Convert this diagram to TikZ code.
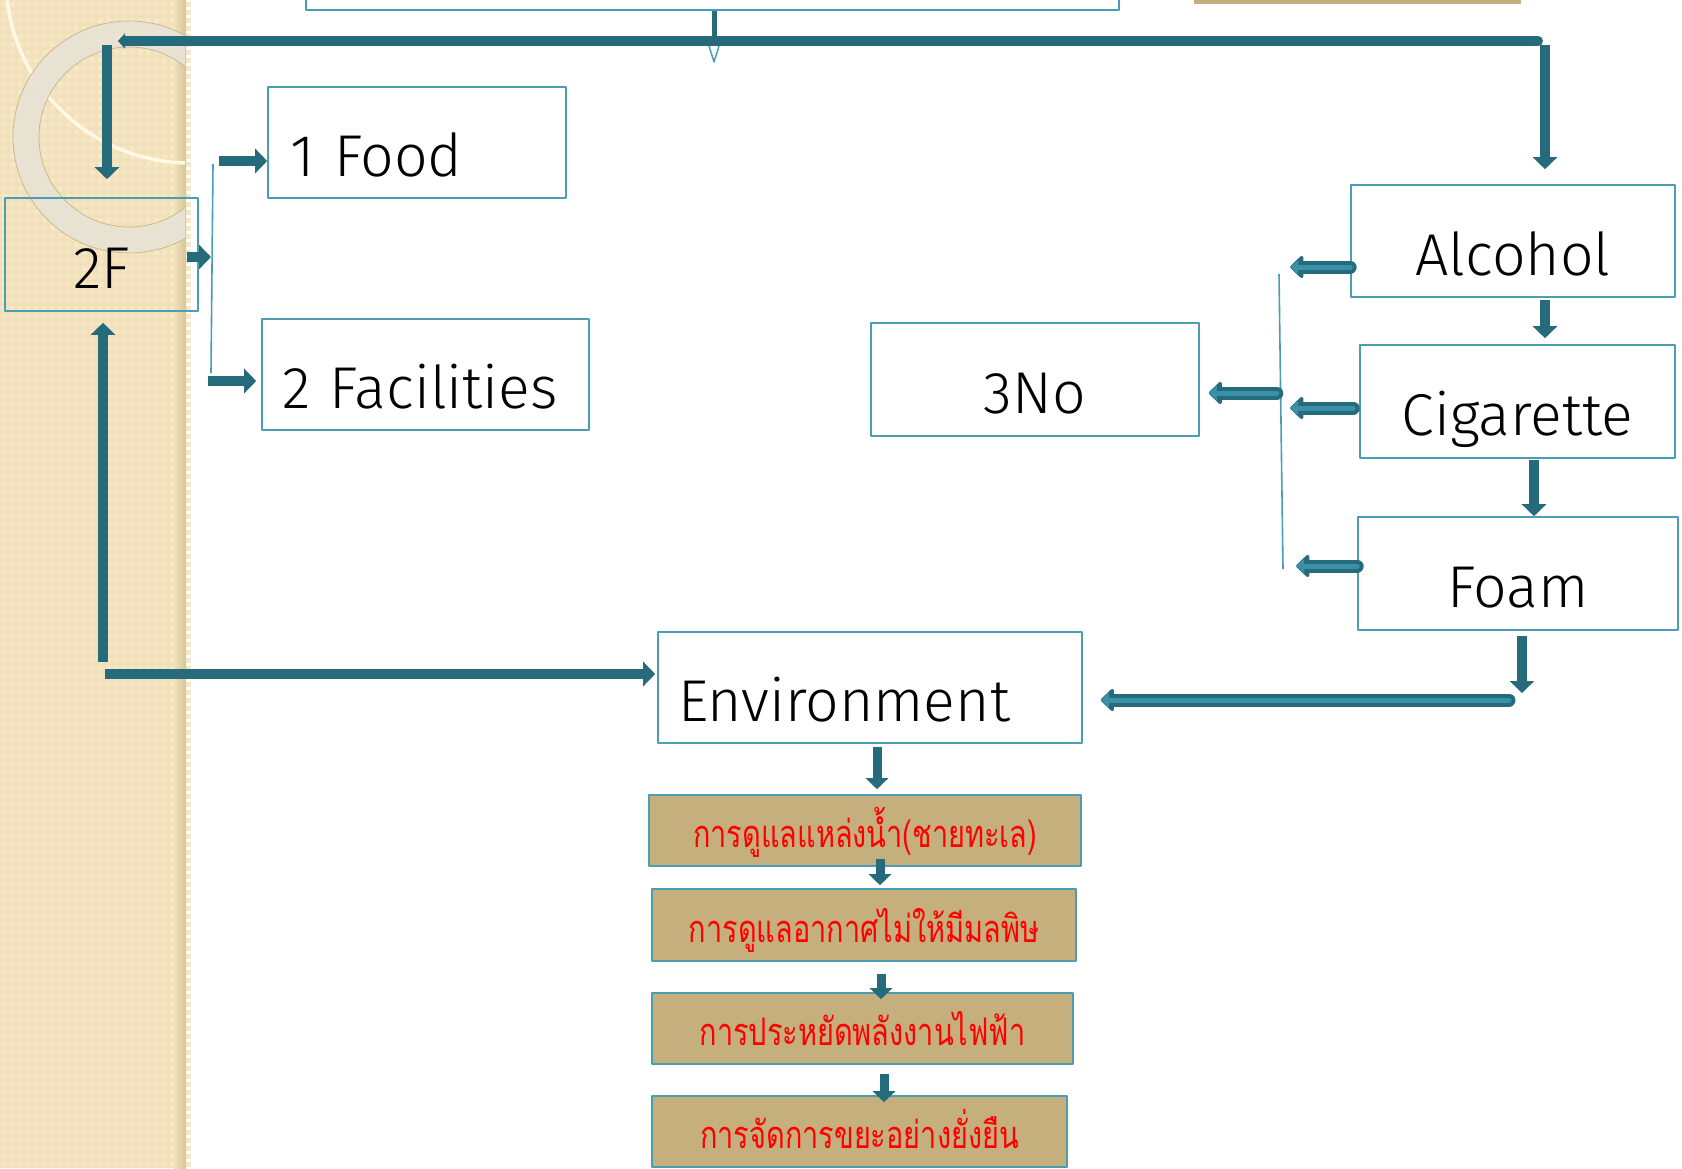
\documentclass[tikz,border=0pt]{standalone}
\usepackage{fontspec}
\setmainfont{Fira Sans Light}
\newfontfamily\thaifont[Script=Thai,FakeStretch=0.76]{Loma}
\usetikzlibrary{arrows.meta}
\usetikzlibrary{positioning}
\usetikzlibrary{calc}
\definecolor{arrdark}{HTML}{266B7B}
\definecolor{arrlight}{HTML}{3A91A7}
\definecolor{boxline}{HTML}{4A9DB3}
\definecolor{tanfill}{HTML}{C5AF7D}
\definecolor{stripbg}{HTML}{F2E1B8}
\definecolor{stripsq}{HTML}{F6E8C7}
\definecolor{stripedge}{HTML}{D6C59A}
\definecolor{ringcol}{HTML}{E8E3D6}
\definecolor{ringedge}{HTML}{CDB98F}
\definecolor{arccol}{HTML}{FFF8E4}

\begin{document}
\begin{tikzpicture}[x=1pt,y=-1pt,line join=round,
  box/.style={draw=boxline,line width=1.6pt,inner sep=0pt,text height=68pt,text depth=0pt,
    font=\fontsize{59}{70}\selectfont},
  lbox/.style={box,text width=#1,align=left},
  thaibox/.style={draw=boxline,line width=1.6pt,fill=tanfill,inner sep=0pt,text height=34pt,
    text depth=0pt,text=red,font=\thaifont\fontsize{38}{44}\selectfont},
  arr/.style={draw=arrdark,line width=10pt,-{Triangle[width=24pt,length=12pt]}},
  arrsm/.style={draw=arrdark,line width=9pt,-{Triangle[width=22pt,length=11pt]}},
  blk/.style={draw=arrlight,line width=5pt,line cap=round,shorten >=4pt,
    -{Triangle[width=14pt,length=8pt]},
    preaction={draw=arrdark,line width=13pt,line cap=round,-{Triangle[width=26pt,length=14pt,round]}}}]
\clip (0,0) rectangle (1682,1168);
\fill[white] (0,0) rectangle (1682,1168);
% left strip
\fill[stripbg] (0,0) rectangle (186,1168);
\foreach \i in {0,...,23} {
  \foreach \j in {0,...,146} {
    \fill[stripsq] (\i*8+1.5,\j*8+1.5) rectangle +(5,5);
  }
}
\shade[left color=stripbg,right color=stripedge] (174,0) rectangle (186,1168);
\begin{scope}
\clip (0,0) rectangle (185,1168);
\draw[arccol,line width=3.5pt] (190,-21) circle (184);
\fill[ringcol,opacity=0.92,even odd rule] (129,137) circle (116) (129,137) circle (90);
\draw[ringedge,line width=0.8pt] (129,137) circle (116) (129,137) circle (90);
\end{scope}

% boxes
\node[box,minimum width=813pt,minimum height=110pt] (topbox) at (712.5,-45) {};
\node[fill=tanfill,inner sep=0pt,minimum width=327pt,minimum height=60pt] (topright) at (1357.5,-26) {};
\node[box,minimum width=193pt,minimum height=113pt] (twoF) at (101.5,254.5) {2F};
\node[lbox=254pt,minimum width=298pt,minimum height=111pt] (food) at (417,142.5) {\mbox{1 Food}};
\node[lbox=287pt,minimum width=327pt,minimum height=111pt] (facil) at (425.5,374.5) {\mbox{2 Facilities}};
\node[box,minimum width=324pt,minimum height=112pt] (alcohol) at (1513,241) {Alcohol};
\node[box,minimum width=315pt,minimum height=113pt] (cigarette) at (1517.5,401.5) {Cigarette};
\node[box,minimum width=320pt,minimum height=113pt] (foam) at (1518,573.5) {Foam};
\node[box,minimum width=328pt,minimum height=113pt] (threeNo) at (1035,379.5) {3No};
\node[lbox=384pt,minimum width=424pt,minimum height=111pt] (environ) at (870,687.5) {\mbox{Environment}};
\node[thaibox,minimum width=432pt,minimum height=71pt] (water) at (865,830.5) {การดูแลแหล่งน้ำ(ชายทะเล)};
\node[thaibox,minimum width=424pt,minimum height=72pt] (air) at (864,925) {การดูแลอากาศไม่ให้มีมลพิษ};
\node[thaibox,minimum width=421pt,minimum height=71pt] (power) at (862.5,1028.5) {การประหยัดพลังงานไฟฟ้า};
\node[thaibox,minimum width=415pt,minimum height=71pt] (waste) at (859.5,1131.5) {การจัดการขยะอย่างยั่งยืน};

% connectors
\coordinate (topdrop) at (714,46);
\coordinate (hubL) at (118,41);
\coordinate (hubR) at (1538,41);
\coordinate (hubLd) at (107,45);
\coordinate (hubRd) at (1545,45);
\draw[arrdark,line width=5pt] (topdrop |- topbox.south) -- (topdrop);
\draw[boxline,line width=1.5pt] ([xshift=-5pt]topdrop) -- ([yshift=-16pt]topdrop) -- ([xshift=5pt]topdrop);
\draw[arrdark,line width=10pt,line cap=round,{Triangle[width=15pt,length=7pt]}-] (hubL) -- (hubR);
\draw[arr,shorten >=18pt] (hubLd) -- (hubLd |- twoF.north);
\draw[arr,shorten >=15pt] (hubRd) -- (hubRd |- alcohol.north);

\coordinate (brA) at (213,164);
\coordinate (brB) at (211,373);
\draw[boxline,line width=1.6pt] (brA) -- (brB);
\draw[arr] ([xshift=-12pt,yshift=-2.5pt]twoF.east) -- ([yshift=-2.5pt]twoF.east -| brB);
\draw[arr] ([xshift=-48pt,yshift=-18.5pt]food.west) -- ([yshift=-18.5pt]food.west);
\draw[arr] ([xshift=-53pt,yshift=-6.5pt]facil.west) -- ([xshift=-5pt,yshift=-6.5pt]facil.west);

\coordinate (brC) at (1279,274);
\coordinate (brD) at (1283,569);
\draw[boxline,line width=1.6pt] (brC) -- (brD);
\draw[blk] ([yshift=-26pt]alcohol.west) -- ([xshift=-64pt,yshift=-26pt]alcohol.west);
\draw[blk] ([xshift=-6pt,yshift=-6.5pt]cigarette.west) -- ([xshift=-73pt,yshift=-6.5pt]cigarette.west);
\draw[blk] ([yshift=7.5pt]foam.west) -- ([xshift=-65pt,yshift=7.5pt]foam.west);
\draw[blk] ([xshift=77pt,yshift=-13.5pt]threeNo.east) -- ([xshift=5pt,yshift=-13.5pt]threeNo.east);

\coordinate (colB) at (1534,0);
\coordinate (turnR) at (1522,693);
\coordinate (longR) at (1509,700);
\draw[arr,shorten <=2pt,shorten >=6pt] (hubRd |- alcohol.south) -- (hubRd |- cigarette.north);
\draw[arr,shorten <=1pt] (colB |- cigarette.south) -- (colB |- foam.north);
\draw[arr,shorten <=5pt] (turnR |- foam.south) -- (turnR);
\draw[blk] (longR) -- ([xshift=14pt]longR -| environ.east);

\coordinate (cornerL) at (103,662);
\coordinate (cornerH) at (105,674);
\draw[arr,shorten >=11pt] (cornerL) -- (cornerL |- twoF.south);
\draw[arr,shorten >=2pt] (cornerH) -- (cornerH -| environ.west);

\coordinate (colE) at (877,0);
\coordinate (colW) at (880,0);
\coordinate (colA) at (881,0);
\coordinate (colP) at (884,0);
\draw[arrsm,shorten <=3pt,shorten >=5pt] (colE |- environ.south) -- (colE |- water.north);
\draw[arrsm] ([yshift=8pt]colW |- water.south) -- ([yshift=3pt]colW |- air.north);
\draw[arrsm] ([yshift=-12pt]colA |- air.south) -- ([yshift=-7pt]colA |- power.north);
\draw[arrsm] ([yshift=-9pt]colP |- power.south) -- ([yshift=-7pt]colP |- waste.north);
\end{tikzpicture}
\end{document}
